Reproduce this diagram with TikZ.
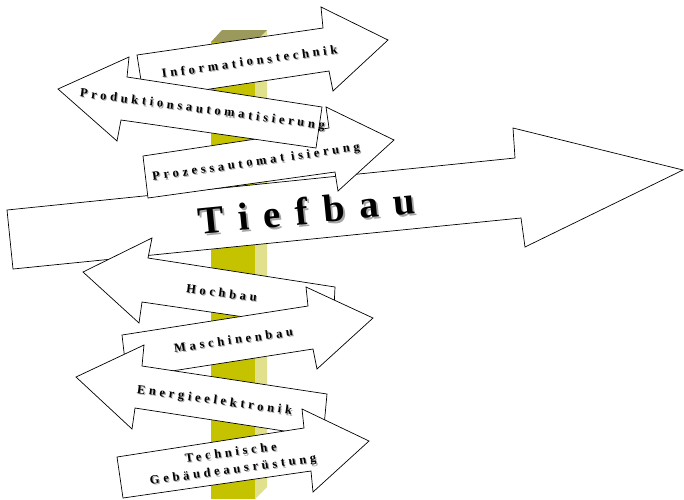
\documentclass[tikz,border=0pt]{standalone}
\usepackage{fontspec}
\setmainfont{Liberation Serif}
\usepackage{xcolor}
\usepackage{tikz}

\definecolor{postfront}{HTML}{C5C300}
\definecolor{postside}{HTML}{E1E08C}
\definecolor{posttop}{HTML}{9B9A5C}

\tikzset{
  board/.style={draw=black,fill=white,line width=0.7pt,line join=miter},
  lab/.style={font=\fontsize{12.5}{17}\selectfont\bfseries\addfontfeature{LetterSpace=30},
    anchor=base,inner sep=0pt,align=center},
  labshadow/.style={lab,text=black!35},
  biglab/.style={lab,font=\fontsize{39}{40}\selectfont\bfseries\addfontfeature{LetterSpace=38}},
  bigshadow/.style={biglab,text=black!35},
}

\begin{document}
\begin{tikzpicture}[x=1pt,y=-1pt]
\useasboundingbox (0,0) rectangle (684,499);
%\draw[color=black!20,step=10] (0,0) grid (684,499);
% post
\fill[postfront] (211,42) rectangle (255,499);
\fill[postside] (255,42) -- (267,30) -- (267,487) -- (255,499) -- cycle;
\fill[posttop] (211,42) -- (222,30) -- (267,30) -- (255,42) -- cycle;
% Tiefbau
\draw[board] (7,210) -- (515,158) -- (513,128) -- (683,170) -- (525,247) -- (521,218) -- (13,269) -- cycle;
\node[bigshadow] (tiefs) at (310,226) [rotate=5.6] {Tiefbau};
\node[biglab] (tief) at (308,224) [rotate=5.6] {Tiefbau};
% Prozessautomatisierung
\draw[board] (143,156) -- (329,128) -- (326,107) -- (394,140) -- (338,191) -- (335,172) -- (148,198) -- cycle;
\node[labshadow] (prozs) at (257.6,166.6) [rotate=8.3] {Prozessautomat isierung};
\node[lab] (proz) at (256.5,165.5) [rotate=8.3] {Prozessautomat isierung};
% Informationstechnik
\draw[board] (137,55) -- (323,28) -- (321,7) -- (388,40) -- (333,91) -- (329,71) -- (144,99) -- cycle;
\node[labshadow] (infos) at (251.1,66.6) [rotate=8] {Informationstechnik};
\node[lab] (info) at (250,65.5) [rotate=8] {Informationstechnik};
% Produktionsautomatisierung
\draw[board] (58,89) -- (129,57) -- (127,77) -- (322,107) -- (316,148) -- (121,120) -- (117,141) -- cycle;
\node[labshadow] (prods) at (203.1,114.1) [rotate=-7.6] {Produktionsautomatisierung};
\node[lab] (prod) at (202,113) [rotate=-7.6] {Produktionsautomatisierung};
% Hochbau
\draw[board] (83,272) -- (152,238) -- (148,258) -- (335,287) -- (333,330) -- (142,302) -- (139,323) -- cycle;
\node[labshadow] (hochs) at (222.1,298.1) [rotate=-7.8] {Hochbau};
\node[lab] (hoch) at (221,297) [rotate=-7.8] {Hochbau};
% Maschinenbau
\draw[board] (122,335) -- (308,306) -- (306,287) -- (373,318) -- (317,369) -- (313,349) -- (127,378) -- cycle;
\node[labshadow] (maschs) at (235.1,345.1) [rotate=8] {Maschinenbau};
\node[lab] (masch) at (234,344) [rotate=8] {Maschinenbau};
% Energieelektronik
\draw[board] (76,377) -- (144,345) -- (142,366) -- (327,394) -- (323,437) -- (135,408) -- (132,429) -- cycle;
\node[labshadow] (energs) at (215.1,405.1) [rotate=-8] {Energieelektronik};
\node[lab] (energ) at (214,404) [rotate=-8] {Energieelektronik};
% Technische Gebaeudeausruestung
\draw[board] (117,457) -- (304,428) -- (302,409) -- (369,441) -- (313,492) -- (311,471) -- (123,498) -- cycle;
\node[labshadow,anchor=center] (techs) at (233.1,463.1) [rotate=7.7] {Technische\\Gebäudeausrüstung};
\node[lab,anchor=center] (tech) at (232,462) [rotate=7.7] {Technische\\Gebäudeausrüstung};
\end{tikzpicture}
\end{document}
